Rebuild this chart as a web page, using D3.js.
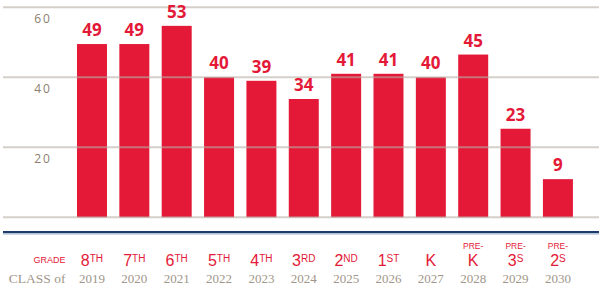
<!DOCTYPE html>
<html>
<head>
<meta charset="utf-8">
<script src="https://cdn.jsdelivr.net/npm/d3@7"></script>
<style>
  body { margin: 0; background: #fff; }
  svg { display: block; }
</style>
</head>
<body>
<svg id="chart" width="599" height="290"></svg>
<script>
// enrolment by class year
const years = ["2019", "2020", "2021", "2022", "2023", "2024", "2025", "2026", "2027", "2028", "2029", "2030"];
// printed labels
const labels = [49, 49, 53, 40, 39, 34, 41, 41, 40, 45, 23, 9];
// bar heights as drawn against the axis
const heights = [49.5, 49.5, 54.7, 40, 39, 33.8, 41, 41, 40, 46.5, 25.3, 10.9];
const grades = ["8", "7", "6", "5", "4", "3", "2", "1", "K", "K", "3", "2"];
const gradeSup = ["TH", "TH", "TH", "TH", "TH", "RD", "ND", "ST", "", "", "S", "S"];
const gradePre = [false, false, false, false, false, false, false, false, false, true, true, true];
const yTicks = [0, 20, 40, 60];

const red = "#e31937";
const svg = d3.select("#chart");

const x = d3.scaleBand()
  .domain(years)
  .range([70.8, 579.1])
  .paddingInner(0.292)
  .paddingOuter(0.146);

const y = d3.scaleLinear().domain([0, 60]).range([217.3, 7.3]);

// bars
svg.append("g")
  .selectAll("rect")
  .data(heights)
  .join("rect")
  .attr("x", (d, i) => x(years[i]))
  .attr("y", d => y(d))
  .attr("width", x.bandwidth())
  .attr("height", d => y(0) - y(d))
  .attr("fill", red);

// gridlines drawn over the bars
svg.append("g")
  .selectAll("line")
  .data(yTicks)
  .join("line")
  .attr("x1", 3).attr("x2", 599)
  .attr("y1", d => y(d)).attr("y2", d => y(d))
  .attr("stroke", "rgba(185,175,165,0.6)")
  .attr("stroke-width", 2);

// tick labels (no label at zero)
svg.append("g")
  .selectAll("text")
  .data(yTicks.filter(d => d > 0))
  .join("text")
  .attr("x", 43)
  .attr("y", d => y(d) + 15.5)
  .attr("text-anchor", "middle")
  .attr("font-family", "'Open Sans', sans-serif")
  .attr("font-size", 12)
  .attr("letter-spacing", 2)
  .attr("fill", "#8c7e6e")
  .text(d => d);

// value labels
svg.append("g")
  .selectAll("text")
  .data(labels)
  .join("text")
  .attr("x", (d, i) => x(years[i]) + x.bandwidth() / 2)
  .attr("y", (d, i) => y(heights[i]) - 8)
  .attr("text-anchor", "middle")
  .attr("font-family", "'Open Sans', sans-serif")
  .attr("font-weight", 700)
  .attr("font-size", 17)
  .attr("fill", red)
  .text(d => d);

// navy rule
svg.append("line")
  .attr("x1", 3).attr("x2", 599).attr("y1", 232.2).attr("y2", 232.2)
  .attr("stroke", "#1d3c6c").attr("stroke-width", 2.2);
svg.append("line")
  .attr("x1", 3).attr("x2", 599).attr("y1", 234).attr("y2", 234)
  .attr("stroke", "#9fb2cc").attr("stroke-width", 1);

// row captions
svg.append("text")
  .attr("x", 65.5).attr("y", 262.7)
  .attr("text-anchor", "end")
  .attr("font-family", "'Liberation Sans', sans-serif")
  .attr("font-size", 9)
  .attr("fill", red)
  .text("GRADE");
svg.append("text")
  .attr("x", 65.5).attr("y", 282.7)
  .attr("text-anchor", "end")
  .attr("font-family", "'Liberation Serif', serif")
  .attr("font-size", 13.5)
  .attr("fill", "#a0968a")
  .text("CLASS of");

// grade labels
const gl = svg.append("g")
  .selectAll("text")
  .data(grades)
  .join("text")
  .attr("x", (d, i) => x(years[i]) + x.bandwidth() / 2)
  .attr("y", 265.7)
  .attr("text-anchor", "middle")
  .attr("font-family", "'Liberation Sans', sans-serif")
  .attr("fill", red);
gl.append("tspan").attr("font-size", 16).text(d => d);
gl.append("tspan")
  .attr("font-size", 10)
  .attr("dy", -3.8)
  .text((d, i) => gradeSup[i]);

svg.append("g")
  .selectAll("text")
  .data(years.filter((d, i) => gradePre[i]))
  .join("text")
  .attr("x", d => x(d) + x.bandwidth() / 2)
  .attr("y", 249)
  .attr("text-anchor", "middle")
  .attr("font-family", "'Liberation Sans', sans-serif")
  .attr("font-size", 8.5)
  .attr("fill", red)
  .text("PRE-");

// class years
svg.append("g")
  .selectAll("text")
  .data(years)
  .join("text")
  .attr("x", d => x(d) + x.bandwidth() / 2)
  .attr("y", 282.7)
  .attr("text-anchor", "middle")
  .attr("font-family", "'Liberation Serif', serif")
  .attr("font-size", 13)
  .attr("fill", "#a0968a")
  .text(d => d);
</script>
</body>
</html>
